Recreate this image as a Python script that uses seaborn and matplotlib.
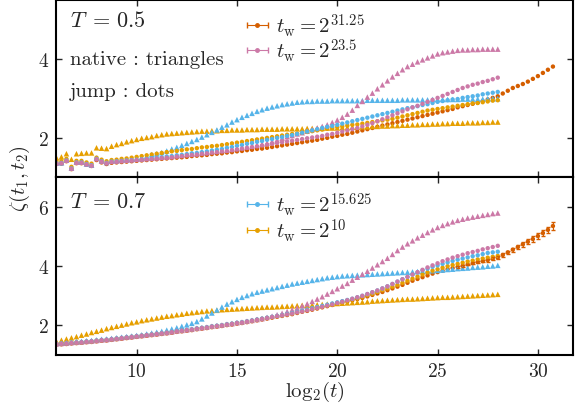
import numpy as np
import matplotlib
matplotlib.use('Agg')
import matplotlib.pyplot as plt
import seaborn as sns

# grid in log2(t), step 0.25
x_main = np.arange(6, 28.001, 0.25)
x_long = np.arange(6, 30.751, 0.25)

# T = 0.5 -------------------------------------------------------------
nat_10_T05 = [1.50, 1.52, 1.60, 1.46, 1.60, 1.61, 1.62, 1.62, 1.75, 1.74, 1.73, 1.79,
              1.83, 1.86, 1.90, 1.93, 1.96, 1.99, 2.01, 2.03, 2.06, 2.08, 2.10, 2.11,
              2.12, 2.13, 2.14, 2.15, 2.16, 2.17, 2.17, 2.18, 2.18, 2.19, 2.19, 2.20,
              2.20, 2.20, 2.21, 2.21, 2.21, 2.22, 2.22, 2.22, 2.22, 2.23, 2.23, 2.23,
              2.23, 2.23, 2.24, 2.24, 2.24, 2.24, 2.25, 2.25, 2.25, 2.26, 2.26, 2.27,
              2.27, 2.28, 2.28, 2.29, 2.29, 2.30, 2.30, 2.31, 2.31, 2.32, 2.32, 2.33,
              2.33, 2.34, 2.34, 2.35, 2.35, 2.36, 2.36, 2.37, 2.37, 2.37, 2.38, 2.38,
              2.38, 2.39, 2.39, 2.40, 2.40]
nat_15_T05 = [1.37, 1.37, 1.44, 1.24, 1.39, 1.39, 1.34, 1.31, 1.49, 1.43, 1.38, 1.43,
              1.43, 1.45, 1.45, 1.46, 1.47, 1.50, 1.54, 1.58, 1.60, 1.63, 1.67, 1.72,
              1.76, 1.81, 1.86, 1.91, 1.96, 2.02, 2.08, 2.14, 2.20, 2.27, 2.33, 2.40,
              2.46, 2.52, 2.57, 2.62, 2.67, 2.71, 2.75, 2.78, 2.81, 2.84, 2.86, 2.88,
              2.90, 2.91, 2.92, 2.92, 2.93, 2.93, 2.93, 2.94, 2.94, 2.94, 2.94, 2.94,
              2.94, 2.94, 2.95, 2.95, 2.95, 2.95, 2.95, 2.95, 2.95, 2.96, 2.96, 2.96,
              2.96, 2.96, 2.96, 2.97, 2.97, 2.97, 2.97, 2.97, 2.97, 2.98, 2.98, 2.98,
              2.98, 2.98, 2.99, 2.99, 2.99]
nat_23_T05 = [1.37, 1.38, 1.44, 1.24, 1.39, 1.39, 1.35, 1.32, 1.48, 1.42, 1.38, 1.41,
              1.42, 1.43, 1.44, 1.45, 1.46, 1.47, 1.48, 1.49, 1.50, 1.51, 1.52, 1.53,
              1.55, 1.56, 1.58, 1.59, 1.60, 1.62, 1.63, 1.65, 1.66, 1.68, 1.69, 1.71,
              1.73, 1.75, 1.77, 1.79, 1.81, 1.84, 1.87, 1.91, 1.95, 1.99, 2.03, 2.06,
              2.10, 2.13, 2.17, 2.21, 2.25, 2.29, 2.33, 2.39, 2.45, 2.52, 2.60, 2.70,
              2.82, 2.92, 3.03, 3.13, 3.24, 3.34, 3.44, 3.54, 3.63, 3.72, 3.80, 3.86,
              3.92, 3.97, 4.02, 4.07, 4.12, 4.15, 4.17, 4.19, 4.21, 4.22, 4.22, 4.23,
              4.23, 4.24, 4.24, 4.24, 4.24]
jump_10_T05 = [1.40, 1.41, 1.47, 1.27, 1.42, 1.42, 1.38, 1.35, 1.50, 1.45, 1.41, 1.44,
               1.45, 1.47, 1.48, 1.50, 1.52, 1.54, 1.56, 1.58, 1.60, 1.62, 1.64, 1.66,
               1.67, 1.69, 1.71, 1.72, 1.74, 1.76, 1.77, 1.79, 1.80, 1.82, 1.84, 1.86,
               1.88, 1.90, 1.92, 1.94, 1.96, 1.98, 2.00, 2.02, 2.04, 2.06, 2.08, 2.10,
               2.11, 2.13, 2.15, 2.17, 2.19, 2.21, 2.23, 2.25, 2.27, 2.29, 2.31, 2.33,
               2.34, 2.36, 2.38, 2.40, 2.42, 2.44, 2.46, 2.48, 2.51, 2.54, 2.57, 2.60,
               2.63, 2.66, 2.69, 2.71, 2.73, 2.75, 2.77, 2.79, 2.81, 2.83, 2.85, 2.87,
               2.88, 2.90, 2.92, 2.94, 2.95]
jump_15_T05 = [1.36, 1.37, 1.43, 1.23, 1.38, 1.38, 1.34, 1.31, 1.47, 1.41, 1.37, 1.40,
               1.41, 1.42, 1.43, 1.44, 1.45, 1.46, 1.47, 1.49, 1.50, 1.51, 1.53, 1.54,
               1.56, 1.57, 1.59, 1.61, 1.62, 1.64, 1.66, 1.68, 1.70, 1.72, 1.75, 1.77,
               1.80, 1.82, 1.85, 1.87, 1.90, 1.92, 1.95, 1.97, 2.00, 2.02, 2.05, 2.07,
               2.10, 2.13, 2.16, 2.19, 2.22, 2.25, 2.28, 2.30, 2.33, 2.36, 2.39, 2.42,
               2.45, 2.48, 2.51, 2.54, 2.57, 2.60, 2.63, 2.66, 2.69, 2.72, 2.75, 2.77,
               2.80, 2.83, 2.85, 2.88, 2.91, 2.93, 2.95, 2.97, 2.98, 3.01, 3.03, 3.05,
               3.07, 3.10, 3.12, 3.14, 3.16]
jump_23_T05 = [1.35, 1.36, 1.42, 1.22, 1.37, 1.37, 1.33, 1.30, 1.46, 1.40, 1.36, 1.39,
               1.40, 1.41, 1.42, 1.43, 1.44, 1.45, 1.46, 1.47, 1.48, 1.49, 1.50, 1.51,
               1.53, 1.54, 1.56, 1.57, 1.58, 1.60, 1.61, 1.63, 1.64, 1.66, 1.67, 1.69,
               1.71, 1.73, 1.75, 1.77, 1.79, 1.81, 1.83, 1.85, 1.87, 1.89, 1.91, 1.93,
               1.95, 1.97, 1.99, 2.01, 2.03, 2.05, 2.08, 2.10, 2.13, 2.16, 2.19, 2.22,
               2.25, 2.29, 2.33, 2.37, 2.42, 2.47, 2.52, 2.57, 2.62, 2.67, 2.72, 2.77,
               2.81, 2.86, 2.91, 2.96, 3.01, 3.06, 3.11, 3.16, 3.21, 3.26, 3.30, 3.34,
               3.37, 3.41, 3.44, 3.48, 3.52]
jump_31_T05 = [1.34, 1.35, 1.41, 1.21, 1.36, 1.36, 1.32, 1.29, 1.44, 1.38, 1.34, 1.37,
               1.38, 1.39, 1.40, 1.41, 1.42, 1.43, 1.44, 1.45, 1.46, 1.47, 1.48, 1.49,
               1.50, 1.51, 1.52, 1.54, 1.55, 1.56, 1.57, 1.59, 1.60, 1.61, 1.63, 1.64,
               1.66, 1.67, 1.69, 1.70, 1.72, 1.73, 1.75, 1.77, 1.79, 1.81, 1.83, 1.85,
               1.87, 1.89, 1.91, 1.93, 1.95, 1.98, 2.00, 2.03, 2.05, 2.08, 2.10, 2.13,
               2.16, 2.19, 2.22, 2.25, 2.28, 2.31, 2.34, 2.37, 2.40, 2.43, 2.46, 2.49,
               2.52, 2.55, 2.58, 2.61, 2.64, 2.67, 2.70, 2.73, 2.77, 2.80, 2.83, 2.86,
               2.89, 2.93, 2.97, 3.01, 3.05, 3.12, 3.19, 3.26, 3.31, 3.36, 3.42, 3.49,
               3.56, 3.64, 3.72, 3.80]

# T = 0.7 -------------------------------------------------------------
nat_10_T07 = [1.46, 1.50, 1.54, 1.58, 1.62, 1.67, 1.71, 1.76, 1.80, 1.84, 1.89, 1.93,
              1.97, 2.01, 2.05, 2.09, 2.12, 2.16, 2.19, 2.22, 2.25, 2.28, 2.31, 2.33,
              2.36, 2.38, 2.41, 2.43, 2.45, 2.47, 2.49, 2.50, 2.51, 2.53, 2.54, 2.55,
              2.56, 2.57, 2.58, 2.59, 2.60, 2.61, 2.62, 2.62, 2.63, 2.64, 2.65, 2.66,
              2.67, 2.68, 2.68, 2.69, 2.70, 2.71, 2.72, 2.73, 2.74, 2.75, 2.76, 2.77,
              2.78, 2.79, 2.80, 2.82, 2.83, 2.84, 2.85, 2.86, 2.87, 2.88, 2.89, 2.89,
              2.90, 2.91, 2.92, 2.93, 2.94, 2.95, 2.95, 2.96, 2.97, 2.98, 2.99, 3.00,
              3.01, 3.02, 3.03, 3.04, 3.05]
nat_15_T07 = [1.39, 1.40, 1.41, 1.43, 1.45, 1.46, 1.48, 1.49, 1.51, 1.53, 1.54, 1.56,
              1.58, 1.60, 1.62, 1.64, 1.66, 1.68, 1.71, 1.74, 1.77, 1.80, 1.84, 1.88,
              1.92, 1.97, 2.02, 2.07, 2.13, 2.22, 2.32, 2.42, 2.52, 2.62, 2.72, 2.80,
              2.88, 2.95, 3.01, 3.07, 3.12, 3.16, 3.20, 3.24, 3.28, 3.32, 3.36, 3.40,
              3.43, 3.46, 3.49, 3.52, 3.55, 3.58, 3.61, 3.63, 3.65, 3.67, 3.68, 3.69,
              3.70, 3.71, 3.72, 3.73, 3.74, 3.75, 3.76, 3.77, 3.78, 3.79, 3.80, 3.81,
              3.82, 3.83, 3.84, 3.85, 3.86, 3.87, 3.89, 3.90, 3.92, 3.93, 3.94, 3.96,
              3.97, 3.98, 4.00, 4.01, 4.03]
nat_23_T07 = [1.38, 1.39, 1.40, 1.42, 1.43, 1.44, 1.46, 1.47, 1.49, 1.51, 1.52, 1.54,
              1.56, 1.58, 1.60, 1.62, 1.64, 1.66, 1.68, 1.70, 1.72, 1.74, 1.76, 1.78,
              1.81, 1.83, 1.85, 1.87, 1.90, 1.92, 1.94, 1.97, 1.99, 2.01, 2.04, 2.06,
              2.09, 2.11, 2.14, 2.17, 2.20, 2.23, 2.27, 2.31, 2.36, 2.41, 2.47, 2.53,
              2.59, 2.66, 2.73, 2.81, 2.89, 2.97, 3.06, 3.15, 3.24, 3.33, 3.42, 3.53,
              3.63, 3.73, 3.83, 3.94, 4.05, 4.16, 4.27, 4.40, 4.53, 4.65, 4.76, 4.86,
              4.96, 5.05, 5.14, 5.23, 5.31, 5.38, 5.44, 5.50, 5.55, 5.59, 5.63, 5.66,
              5.69, 5.72, 5.75, 5.78, 5.80]
jump_10_T07 = [1.37, 1.38, 1.39, 1.41, 1.42, 1.43, 1.45, 1.46, 1.48, 1.50, 1.51, 1.53,
               1.55, 1.57, 1.59, 1.61, 1.63, 1.65, 1.67, 1.69, 1.71, 1.73, 1.75, 1.77,
               1.80, 1.82, 1.84, 1.86, 1.89, 1.91, 1.93, 1.96, 1.98, 2.00, 2.03, 2.05,
               2.08, 2.10, 2.13, 2.16, 2.19, 2.22, 2.25, 2.28, 2.31, 2.34, 2.38, 2.41,
               2.45, 2.49, 2.53, 2.56, 2.60, 2.64, 2.68, 2.72, 2.76, 2.80, 2.84, 2.88,
               2.92, 2.97, 3.02, 3.07, 3.13, 3.19, 3.25, 3.31, 3.37, 3.44, 3.51, 3.58,
               3.65, 3.72, 3.79, 3.85, 3.90, 3.95, 4.00, 4.04, 4.08, 4.12, 4.16, 4.19,
               4.23, 4.26, 4.29, 4.32, 4.35]
jump_15_T07 = [1.38, 1.39, 1.40, 1.42, 1.43, 1.44, 1.46, 1.47, 1.49, 1.51, 1.52, 1.54,
               1.56, 1.58, 1.60, 1.62, 1.64, 1.66, 1.68, 1.70, 1.72, 1.74, 1.76, 1.78,
               1.81, 1.83, 1.85, 1.87, 1.90, 1.92, 1.94, 1.97, 1.99, 2.01, 2.04, 2.06,
               2.09, 2.11, 2.14, 2.17, 2.20, 2.23, 2.26, 2.29, 2.32, 2.35, 2.39, 2.42,
               2.46, 2.50, 2.54, 2.58, 2.62, 2.66, 2.70, 2.74, 2.78, 2.82, 2.86, 2.90,
               2.95, 3.00, 3.06, 3.12, 3.18, 3.25, 3.32, 3.40, 3.48, 3.56, 3.64, 3.72,
               3.79, 3.86, 3.92, 3.98, 4.03, 4.08, 4.13, 4.18, 4.22, 4.26, 4.30, 4.34,
               4.37, 4.41, 4.45, 4.47, 4.49]
jump_23_T07 = [1.37, 1.38, 1.39, 1.41, 1.42, 1.43, 1.45, 1.46, 1.48, 1.50, 1.51, 1.53,
               1.55, 1.57, 1.59, 1.61, 1.63, 1.65, 1.67, 1.69, 1.71, 1.73, 1.75, 1.77,
               1.80, 1.82, 1.84, 1.86, 1.89, 1.91, 1.93, 1.96, 1.98, 2.00, 2.03, 2.05,
               2.08, 2.10, 2.13, 2.16, 2.19, 2.22, 2.25, 2.28, 2.31, 2.34, 2.37, 2.40,
               2.44, 2.47, 2.51, 2.55, 2.59, 2.63, 2.67, 2.71, 2.76, 2.80, 2.85, 2.90,
               2.95, 3.00, 3.06, 3.12, 3.18, 3.25, 3.32, 3.40, 3.48, 3.56, 3.64, 3.72,
               3.80, 3.88, 3.96, 4.03, 4.10, 4.17, 4.23, 4.29, 4.34, 4.39, 4.44, 4.48,
               4.52, 4.57, 4.61, 4.65, 4.69]
jump_31_T07 = [1.35, 1.36, 1.37, 1.39, 1.40, 1.41, 1.43, 1.44, 1.46, 1.48, 1.49, 1.51,
               1.53, 1.55, 1.57, 1.59, 1.61, 1.63, 1.65, 1.67, 1.69, 1.71, 1.73, 1.75,
               1.78, 1.80, 1.82, 1.84, 1.87, 1.89, 1.91, 1.94, 1.96, 1.98, 2.01, 2.03,
               2.06, 2.08, 2.11, 2.14, 2.17, 2.20, 2.23, 2.26, 2.29, 2.32, 2.35, 2.38,
               2.42, 2.46, 2.49, 2.53, 2.57, 2.61, 2.65, 2.69, 2.73, 2.77, 2.81, 2.85,
               2.89, 2.93, 2.98, 3.03, 3.08, 3.13, 3.19, 3.25, 3.31, 3.37, 3.44, 3.51,
               3.57, 3.63, 3.69, 3.75, 3.80, 3.85, 3.90, 3.94, 3.98, 4.02, 4.06, 4.10,
               4.14, 4.17, 4.21, 4.25, 4.29, 4.38, 4.47, 4.56, 4.65, 4.74, 4.83, 4.92,
               5.02, 5.12, 5.23, 5.36]
# error bars of the last 20 points of the longest T=0.7 run
err_31_T07_tail = [0.03, 0.03, 0.03, 0.04, 0.04, 0.04, 0.05, 0.05, 0.05, 0.06,
                   0.06, 0.07, 0.07, 0.08, 0.08, 0.09, 0.09, 0.10, 0.11, 0.12]

c_31 = '#D55E00'
c_23 = '#CC79A7'
c_15 = '#56B4E9'
c_10 = '#E69F00'

sns.set_style('ticks')
plt.rcParams['font.family'] = 'serif'
plt.rcParams['font.serif'] = ['cmr10']
plt.rcParams['mathtext.fontset'] = 'cm'
plt.rcParams['axes.formatter.use_mathtext'] = True
plt.rcParams['axes.unicode_minus'] = False

fig, (ax1, ax2) = plt.subplots(2, 1, sharex=True, figsize=(5.75, 4.06), dpi=100)
fig.subplots_adjust(left=0.0974, right=0.9965, top=0.9975, bottom=0.1232, hspace=0)


def draw(ax, nat, jump, xl, long_run):
    # longest jump run goes underneath the others
    sns.scatterplot(x=xl, y=long_run, marker='o', s=10, color=c_31,
                    edgecolor='none', ax=ax, legend=False)
    for vals, col in nat:
        sns.scatterplot(x=x_main, y=vals, marker='^', s=16, color=col,
                        edgecolor='none', ax=ax, legend=False)
    for vals, col in jump:
        sns.scatterplot(x=x_main, y=vals, marker='o', s=10, color=col,
                        edgecolor='none', ax=ax, legend=False)


draw(ax1,
     [(nat_10_T05, c_10), (nat_15_T05, c_15), (nat_23_T05, c_23)],
     [(jump_10_T05, c_10), (jump_15_T05, c_15), (jump_23_T05, c_23)],
     x_long, jump_31_T05)
draw(ax2,
     [(nat_10_T07, c_10), (nat_15_T07, c_15), (nat_23_T07, c_23)],
     [(jump_10_T07, c_10), (jump_15_T07, c_15), (jump_23_T07, c_23)],
     x_long, jump_31_T07)
ax2.errorbar(x_long[-20:], jump_31_T07[-20:], yerr=err_31_T07_tail, fmt='none',
             ecolor=c_31, elinewidth=0.8, capsize=1.5)

# legend entries (errorbar style handles)
def leg_handle(ax, col, lab):
    return ax.errorbar([np.nan], [np.nan], xerr=[1], fmt='o', ms=2.5, color=col,
                       elinewidth=0.8, capsize=2, label=lab)

h1 = [leg_handle(ax1, c_31, r'$t_\mathrm{w} = 2^{31.25}$'),
      leg_handle(ax1, c_23, r'$t_\mathrm{w} = 2^{23.5}$')]
h2 = [leg_handle(ax2, c_15, r'$t_\mathrm{w} = 2^{15.625}$'),
      leg_handle(ax2, c_10, r'$t_\mathrm{w} = 2^{10}$')]
leg_kw = dict(loc='upper left', frameon=False, fontsize=15, handlelength=0.8,
              handletextpad=0.5, labelspacing=-0.1, borderpad=0.2)
ax1.legend(handles=h1, bbox_to_anchor=(0.345, 1.02), **leg_kw)
ax2.legend(handles=h2, bbox_to_anchor=(0.345, 1.01), **leg_kw)

ax1.text(0.027, 0.855, r'$T\;=\,0.5$', transform=ax1.transAxes, fontsize=16)
ax1.text(0.027, 0.639, 'native : triangles', transform=ax1.transAxes, fontsize=15)
ax1.text(0.027, 0.461, 'jump : dots', transform=ax1.transAxes, fontsize=15)
ax2.text(0.027, 0.832, r'$T\;=\,0.7$', transform=ax2.transAxes, fontsize=16)

ax1.set_xlim(5.98, 31.75)
ax1.set_ylim(1.0, 5.48)
ax2.set_ylim(1.0, 7.0)
ax1.set_yticks([2, 4])
ax2.set_yticks([2, 4, 6])
ax2.set_xticks([10, 15, 20, 25, 30])

for ax in (ax1, ax2):
    ax.tick_params(direction='in', top=True, right=True, length=4, width=1,
                   labelsize=14, pad=5)
    for s in ax.spines.values():
        s.set_linewidth(1.5)
        s.set_color('black')
ax1.tick_params(labelbottom=False)

ax2.set_xlabel(r'$\mathrm{log}_2(t)$', fontsize=15, labelpad=-1)
fig.text(0.035, 0.56, r'$\zeta(t_1, t_2)$', rotation=90, fontsize=15,
         ha='center', va='center')

plt.savefig('out.png', dpi=100)
